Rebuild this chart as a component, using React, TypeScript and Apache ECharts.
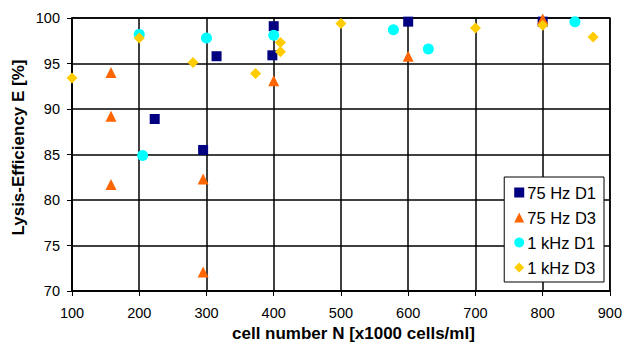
import React, { useEffect, useRef } from "react";
import * as echarts from "echarts";

const seriesNames = ["75 Hz D1", "75 Hz D3", "1 kHz D1", "1 kHz D3"];
const hz75D1: [number, number][] = [
  [223, 88.9], [295, 85.5], [315, 95.8], [398, 95.9], [400, 99.1], [600, 99.6], [800, 99.6],
];
const hz75D3: [number, number][] = [
  [158, 94.0], [158, 89.2], [158, 81.7], [295, 82.3], [295, 72.1], [400, 93.1], [600, 95.8], [800, 99.9],
];
const khz1D1: [number, number][] = [
  [200, 98.2], [205, 84.9], [300, 97.8], [400, 98.1], [578, 98.7], [630, 96.6], [848, 99.6],
];
const khz1D3: [number, number][] = [
  [100, 93.4], [200, 97.8], [280, 95.1], [373, 93.9], [410, 97.3], [410, 96.3], [500, 99.4], [700, 98.9], [800, 99.2], [875, 97.9],
];
const xTitle = "cell number N [x1000 cells/ml]";
const yTitle = "Lysis-Efficiency E [%]";
const colors = ["#000080", "#FF6600", "#00FFFF", "#FFCC00"];
const symbols = ["rect", "triangle", "circle", "diamond"];
const sizes = [10, 11, 11, 11];

const FONT = "Liberation Sans, Arial, sans-serif";

export default function App() {
  const ref = useRef<HTMLDivElement>(null);
  useEffect(() => {
    if (!ref.current) return;
    const chart = echarts.init(ref.current, null, { renderer: "svg" });
    const datas = [hz75D1, hz75D3, khz1D1, khz1D3];
    chart.setOption({
      animation: false,
      backgroundColor: "#ffffff",
      grid: {
        left: 72,
        right: 14,
        top: 18,
        bottom: 59,
        show: true,
        borderColor: "#000",
        borderWidth: 1.5,
      },
      xAxis: {
        type: "value",
        min: 100,
        max: 900,
        interval: 100,
        axisLine: { show: true, lineStyle: { color: "#000", width: 1.5 } },
        axisTick: { show: true, length: 5, lineStyle: { color: "#000" } },
        splitLine: { show: true, lineStyle: { color: "#000", width: 1.5 } },
        axisLabel: { color: "#000", fontSize: 14.5, fontFamily: FONT, margin: 14 },
      },
      yAxis: {
        type: "value",
        min: 70,
        max: 100,
        interval: 5,
        axisLine: { show: true, lineStyle: { color: "#000", width: 1.5 } },
        axisTick: { show: true, length: 5, lineStyle: { color: "#000" } },
        splitLine: { show: true, lineStyle: { color: "#000", width: 1.5 } },
        axisLabel: { color: "#000", fontSize: 14.5, fontFamily: FONT, margin: 12 },
      },
      legend: {
        orient: "vertical",
        right: 21,
        top: 177,
        backgroundColor: "#fff",
        borderColor: "#000",
        borderWidth: 1,
        padding: [7, 8, 6, 10],
        itemGap: 8,
        itemWidth: 10,
        itemHeight: 10,
        textStyle: { color: "#000", fontSize: 16.5, fontFamily: FONT, padding: [0, 0, 0, -2] },
        data: seriesNames.map((n, i) => ({ name: n, icon: symbols[i] })),
      },
      graphic: [
        {
          type: "text",
          x: 232,
          y: 333,
          style: {
            text: xTitle,
            fill: "#000",
            font: "bold 17px Liberation Sans, Arial, sans-serif",
            textAlign: "left",
            textVerticalAlign: "middle",
          },
        },
        {
          type: "text",
          x: 18,
          y: 147.5,
          rotation: Math.PI / 2,
          style: {
            text: yTitle,
            fill: "#000",
            font: "bold 17px Liberation Sans, Arial, sans-serif",
            textAlign: "center",
            textVerticalAlign: "middle",
          },
        },
      ],
      series: datas.map((d, i) => ({
        name: seriesNames[i],
        type: "scatter",
        data: d,
        symbol: symbols[i],
        symbolSize: sizes[i],
        itemStyle: { color: colors[i], opacity: 1 },
        z: 3 + i,
      })),
    });
    return () => chart.dispose();
  }, []);
  return <div ref={ref} style={{ width: 625, height: 350, position: "absolute", left: 0, top: 0 }} />;
}
